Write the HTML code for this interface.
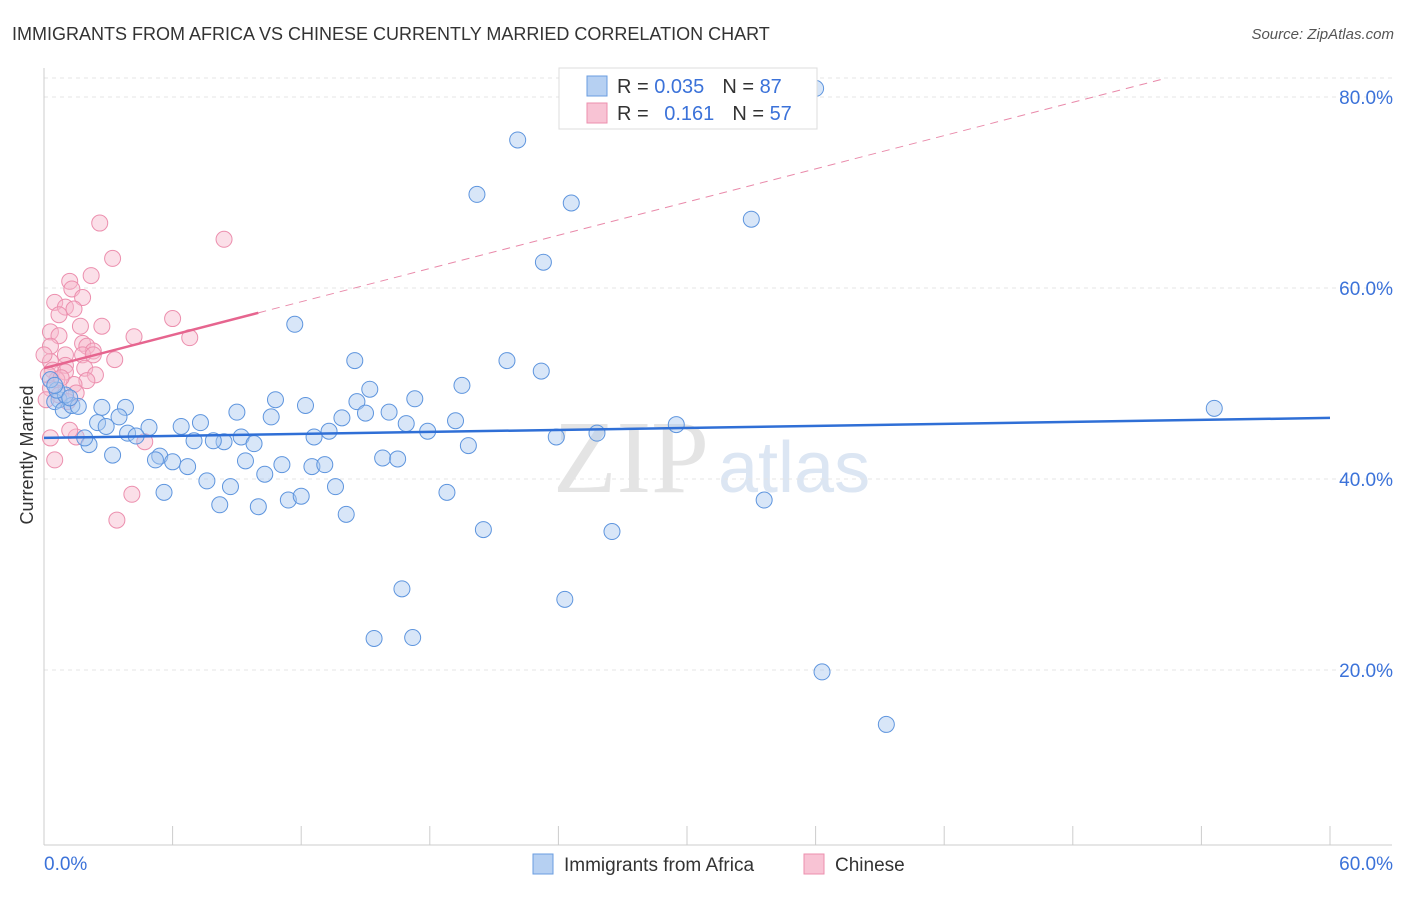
<!DOCTYPE html>
<html><head><meta charset="utf-8"><style>
body{margin:0;background:#fff;font-family:"Liberation Sans",sans-serif;}
svg text{font-family:"Liberation Sans",sans-serif;}
</style></head><body>
<svg width="1406" height="892">
<text x="12" y="40" font-size="18" fill="#333">IMMIGRANTS FROM AFRICA VS CHINESE CURRENTLY MARRIED CORRELATION CHART</text>
<text x="1394" y="39" font-size="15" fill="#555" text-anchor="end" font-style="italic">Source: ZipAtlas.com</text>
<text x="553" y="492" font-size="104" fill="#e4e4e4" style="font-family:'Liberation Serif',serif">ZIP</text>
<text x="718" y="492" font-size="72" fill="#dce6f3">atlas</text>
<g id="grid"></g>
<g id="axes"></g>
<g id="pts"></g>
<g id="lines"></g>
<text transform="translate(33,455) rotate(-90)" font-size="18" fill="#333" text-anchor="middle">Currently Married</text>
<g>
<rect x="559" y="68" width="258" height="61" fill="#fff" stroke="#ddd"/>
<rect x="587" y="76" width="20" height="20" fill="#b6d0f2" stroke="#6a9de0"/>
<rect x="587" y="103" width="20" height="20" fill="#f8c3d4" stroke="#ec8fae"/>
<text x="617" y="93" font-size="20" fill="#333">R = <tspan fill="#3b72d9">0.035</tspan><tspan dx="18">N = </tspan><tspan fill="#3b72d9">87</tspan></text>
<text x="617" y="120" font-size="20" fill="#333">R = <tspan dx="10" fill="#3b72d9">0.161</tspan><tspan dx="18">N = </tspan><tspan fill="#3b72d9">57</tspan></text>
</g>
<g>
<rect x="533" y="854" width="20" height="20" fill="#b6d0f2" stroke="#6a9de0"/>
<text x="564" y="871" font-size="19" fill="#333">Immigrants from Africa</text>
<rect x="804" y="854" width="20" height="20" fill="#f8c3d4" stroke="#ec8fae"/>
<text x="835" y="871" font-size="19" fill="#333">Chinese</text>
</g>
</svg>
<script>
const xTicks=[0,6,12,18,24,30,36,42,48,54,60];
const yTicks=[20,40,60,80];
const blueX=[36.0,22.1,20.2,24.6,33.0,23.3,11.7,21.6,14.5,23.2,19.5,15.2,10.8,12.2,14.6,17.3,16.1,15.0,9.0,10.6,19.2,16.9,17.9,13.9,13.3,12.6,7.3,6.4,4.9,3.8,2.7,3.5,2.5,2.9,3.9,4.3,5.4,5.2,6.0,7.0,8.4,7.9,9.2,9.8,9.4,6.7,10.3,11.1,12.5,13.1,15.8,16.5,19.8,23.9,25.8,29.5,54.6,3.2,2.1,1.9,5.6,7.6,8.7,8.2,10.0,11.4,12.0,13.6,14.1,18.8,20.5,26.5,33.6,16.7,24.3,15.4,17.2,36.3,39.3,0.7,0.5,0.9,1.3,1.6,1.0,0.6,0.3,0.5,1.2];
const blueY=[80.9,75.5,69.8,68.9,67.2,62.7,56.2,52.4,52.4,51.3,49.8,49.4,48.3,47.7,48.1,48.4,47.0,46.9,47.0,46.5,46.1,45.8,45.0,46.4,45.0,44.4,45.9,45.5,45.4,47.5,47.5,46.5,45.9,45.5,44.8,44.5,42.4,42.0,41.8,44.0,43.9,44.0,44.4,43.7,41.9,41.3,40.5,41.5,41.3,41.5,42.2,42.1,43.5,44.4,44.8,45.7,47.4,42.5,43.6,44.3,38.6,39.8,39.2,37.3,37.1,37.8,38.2,39.2,36.3,38.6,34.7,34.5,37.8,28.5,27.4,23.3,23.4,19.8,14.3,48.3,48.1,47.2,47.7,47.6,48.8,49.3,50.4,49.8,48.5];
const pinkX=[2.6,8.4,3.2,2.2,1.2,1.3,1.8,0.5,1.0,1.4,0.7,6.0,2.7,1.7,0.3,0.7,6.8,4.2,1.8,2.0,2.3,0.3,1.0,1.8,2.3,3.3,0.3,1.0,1.9,0.4,1.0,2.4,2.0,0.6,1.4,0.3,0.7,1.5,0.1,1.1,4.7,1.5,1.2,0.3,0.5,4.1,3.4,0.2,0.8,0.0];
const pinkY=[66.8,65.1,63.1,61.3,60.7,59.9,59.0,58.5,58.0,57.8,57.2,56.8,56.0,56.0,55.4,55.0,54.8,54.9,54.2,53.9,53.4,53.9,53.0,53.0,53.0,52.5,52.3,51.9,51.6,51.4,51.2,50.9,50.3,50.4,49.9,49.5,48.8,49.0,48.3,48.1,43.9,44.4,45.1,44.3,42.0,38.4,35.7,50.9,50.6,53.0];
const blueTrend=[44.3,46.4];   // value at x=0 and x=60
const pinkTrend=[51.6,0.58];   // intercept, slope
const X=v=>44+v/60*1286, Y=v=>861-v/20*191;
const NS='http://www.w3.org/2000/svg';
function mk(t,a,p){const e=document.createElementNS(NS,t);for(const k in a)e.setAttribute(k,a[k]);p.appendChild(e);return e;}
const grid=document.getElementById('grid'),axes=document.getElementById('axes'),pts=document.getElementById('pts'),lines=document.getElementById('lines');
yTicks.forEach(t=>{
 const l=mk('line',{x1:44,x2:1392,y1:Y(t),y2:Y(t),stroke:'#e4e4e4','stroke-dasharray':'4,4'},grid);
 
 
 const tx=mk('text',{x:1393,y:Y(t)+7,'font-size':19,fill:'#3b72d9','text-anchor':'end'},axes);
 tx.textContent=t.toFixed(1)+'%';
 
 
});
mk('line',{x1:44,x2:1392,y1:78,y2:78,stroke:'#e4e4e4','stroke-dasharray':'4,4'},grid);
const ax=mk('line',{x1:44,x2:44,y1:68,y2:845,stroke:'#ccc'},axes);


const bx=mk('line',{x1:44,x2:1392,y1:845,y2:845,stroke:'#ccc'},axes);


xTicks.forEach(t=>{const l=mk('line',{x1:X(t),x2:X(t),y1:826,y2:845,stroke:'#ccc'},axes);
 
 });
[[0,'start',44],[60,'end',1393]].forEach(([t,a,x])=>{const tx=mk('text',{x:x,y:870,'font-size':19,fill:'#3b72d9','text-anchor':a},axes);tx.textContent=t.toFixed(1)+'%';
 
 });
function dots(xs,ys,fill,stroke,name){xs.forEach((v,i)=>{const c=mk('circle',{cx:X(v),cy:Y(ys[i]),r:8,fill:fill,'fill-opacity':0.45,stroke:stroke,'stroke-width':1},pts);
 
 });}
dots(pinkX,pinkY,'#f7b9cd','#ec8fae','chinese-point');
dots(blueX,blueY,'#a9c8f0','#5e95de','africa-point');
const bl=mk('line',{x1:X(0),y1:Y(blueTrend[0]),x2:X(60),y2:Y(blueTrend[1]),stroke:'#2f6fd6','stroke-width':2.5},lines);


const pa=pinkTrend[0],pb=pinkTrend[1];
const pd=mk('line',{x1:X(10),y1:Y(pa+pb*10),x2:X(52.1),y2:Y(pa+pb*52.1),stroke:'#e98aaa','stroke-width':1,'stroke-dasharray':'8,6'},lines);


const pl=mk('line',{x1:X(0),y1:Y(pa),x2:X(10),y2:Y(pa+pb*10),stroke:'#e6658f','stroke-width':2.5},lines);


</script>
</body></html>
